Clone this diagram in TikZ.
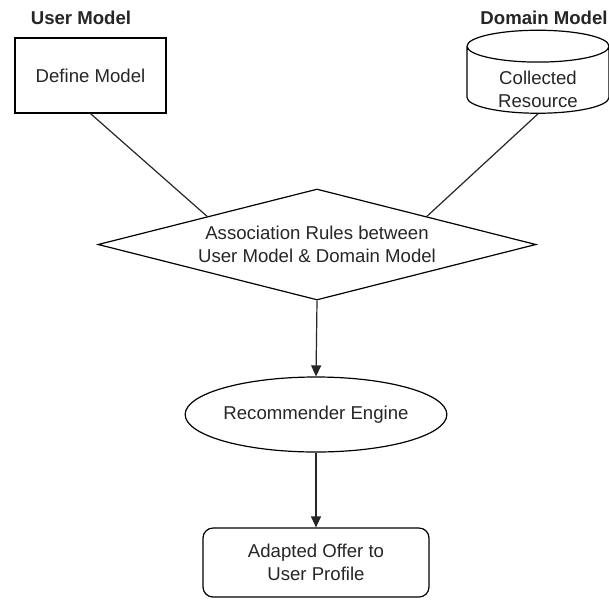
\documentclass[tikz,border=0pt]{standalone}
\usepackage{fontspec}
\setmainfont{Liberation Sans}
\usetikzlibrary{shapes.geometric, arrows.meta}

\tikzset{
    base/.style={draw, line width=1.2pt, align=center, font=\fontsize{18.6}{23}\selectfont, text=black!85},
    title/.style={font=\bfseries\fontsize{18.6}{22}\selectfont, text=black!85},
    modelbox/.style={base, rectangle, minimum width=151, minimum height=75},
    storebox/.style={base, cylinder, shape border rotate=90, aspect=0.4, minimum width=142, minimum height=83, inner sep=0pt},
    rulebox/.style={base, diamond, aspect=4, minimum width=438, minimum height=111, inner sep=0pt},
    enginebox/.style={base, ellipse, minimum width=226, minimum height=75, inner sep=0pt},
    offerbox/.style={base, rectangle, rounded corners=10pt, minimum width=226, minimum height=69},
    link/.style={line width=1.2pt, black!85},
    flow/.style={link, -{Triangle[length=11pt, width=10pt]}}
}

\begin{document}
\begin{tikzpicture}[x=1pt, y=-1pt]
    \useasboundingbox[fill=white] (0,0) rectangle (609,600);

    % 1. Titles
    \node[title] (umtitle) at (81,18) {User Model};
    \node[title] (dmtitle) at (544,18) {Domain Model};

    % 2. The two models
    \node[modelbox] (define) at (90.5,75.5) {Define Model};
    \node[storebox] (store) at (538,80)
        {\raisebox{-15.5pt}[0pt][0pt]{\begin{tabular}{@{}c@{}}Collected\\Resource\end{tabular}}};

    % 3. Rules, engine and offer
    \node[rulebox] (rules) at (317,244.5) {Association Rules between\\User Model \& Domain Model};
    \node[enginebox] (engine) at (316,414.5) {Recommender Engine};
    \node[offerbox] (offer) at (316,562.5) {Adapted Offer to\\User Profile};

    % 4. Connectors
    \draw[link] (define.south) -- (rules.north west);
    \draw[link] (store.south) -- (rules.north east);
    \draw[flow] (rules.south) -- (engine.north);
    \draw[flow] (engine.south) -- (offer.north);
\end{tikzpicture}
\end{document}
